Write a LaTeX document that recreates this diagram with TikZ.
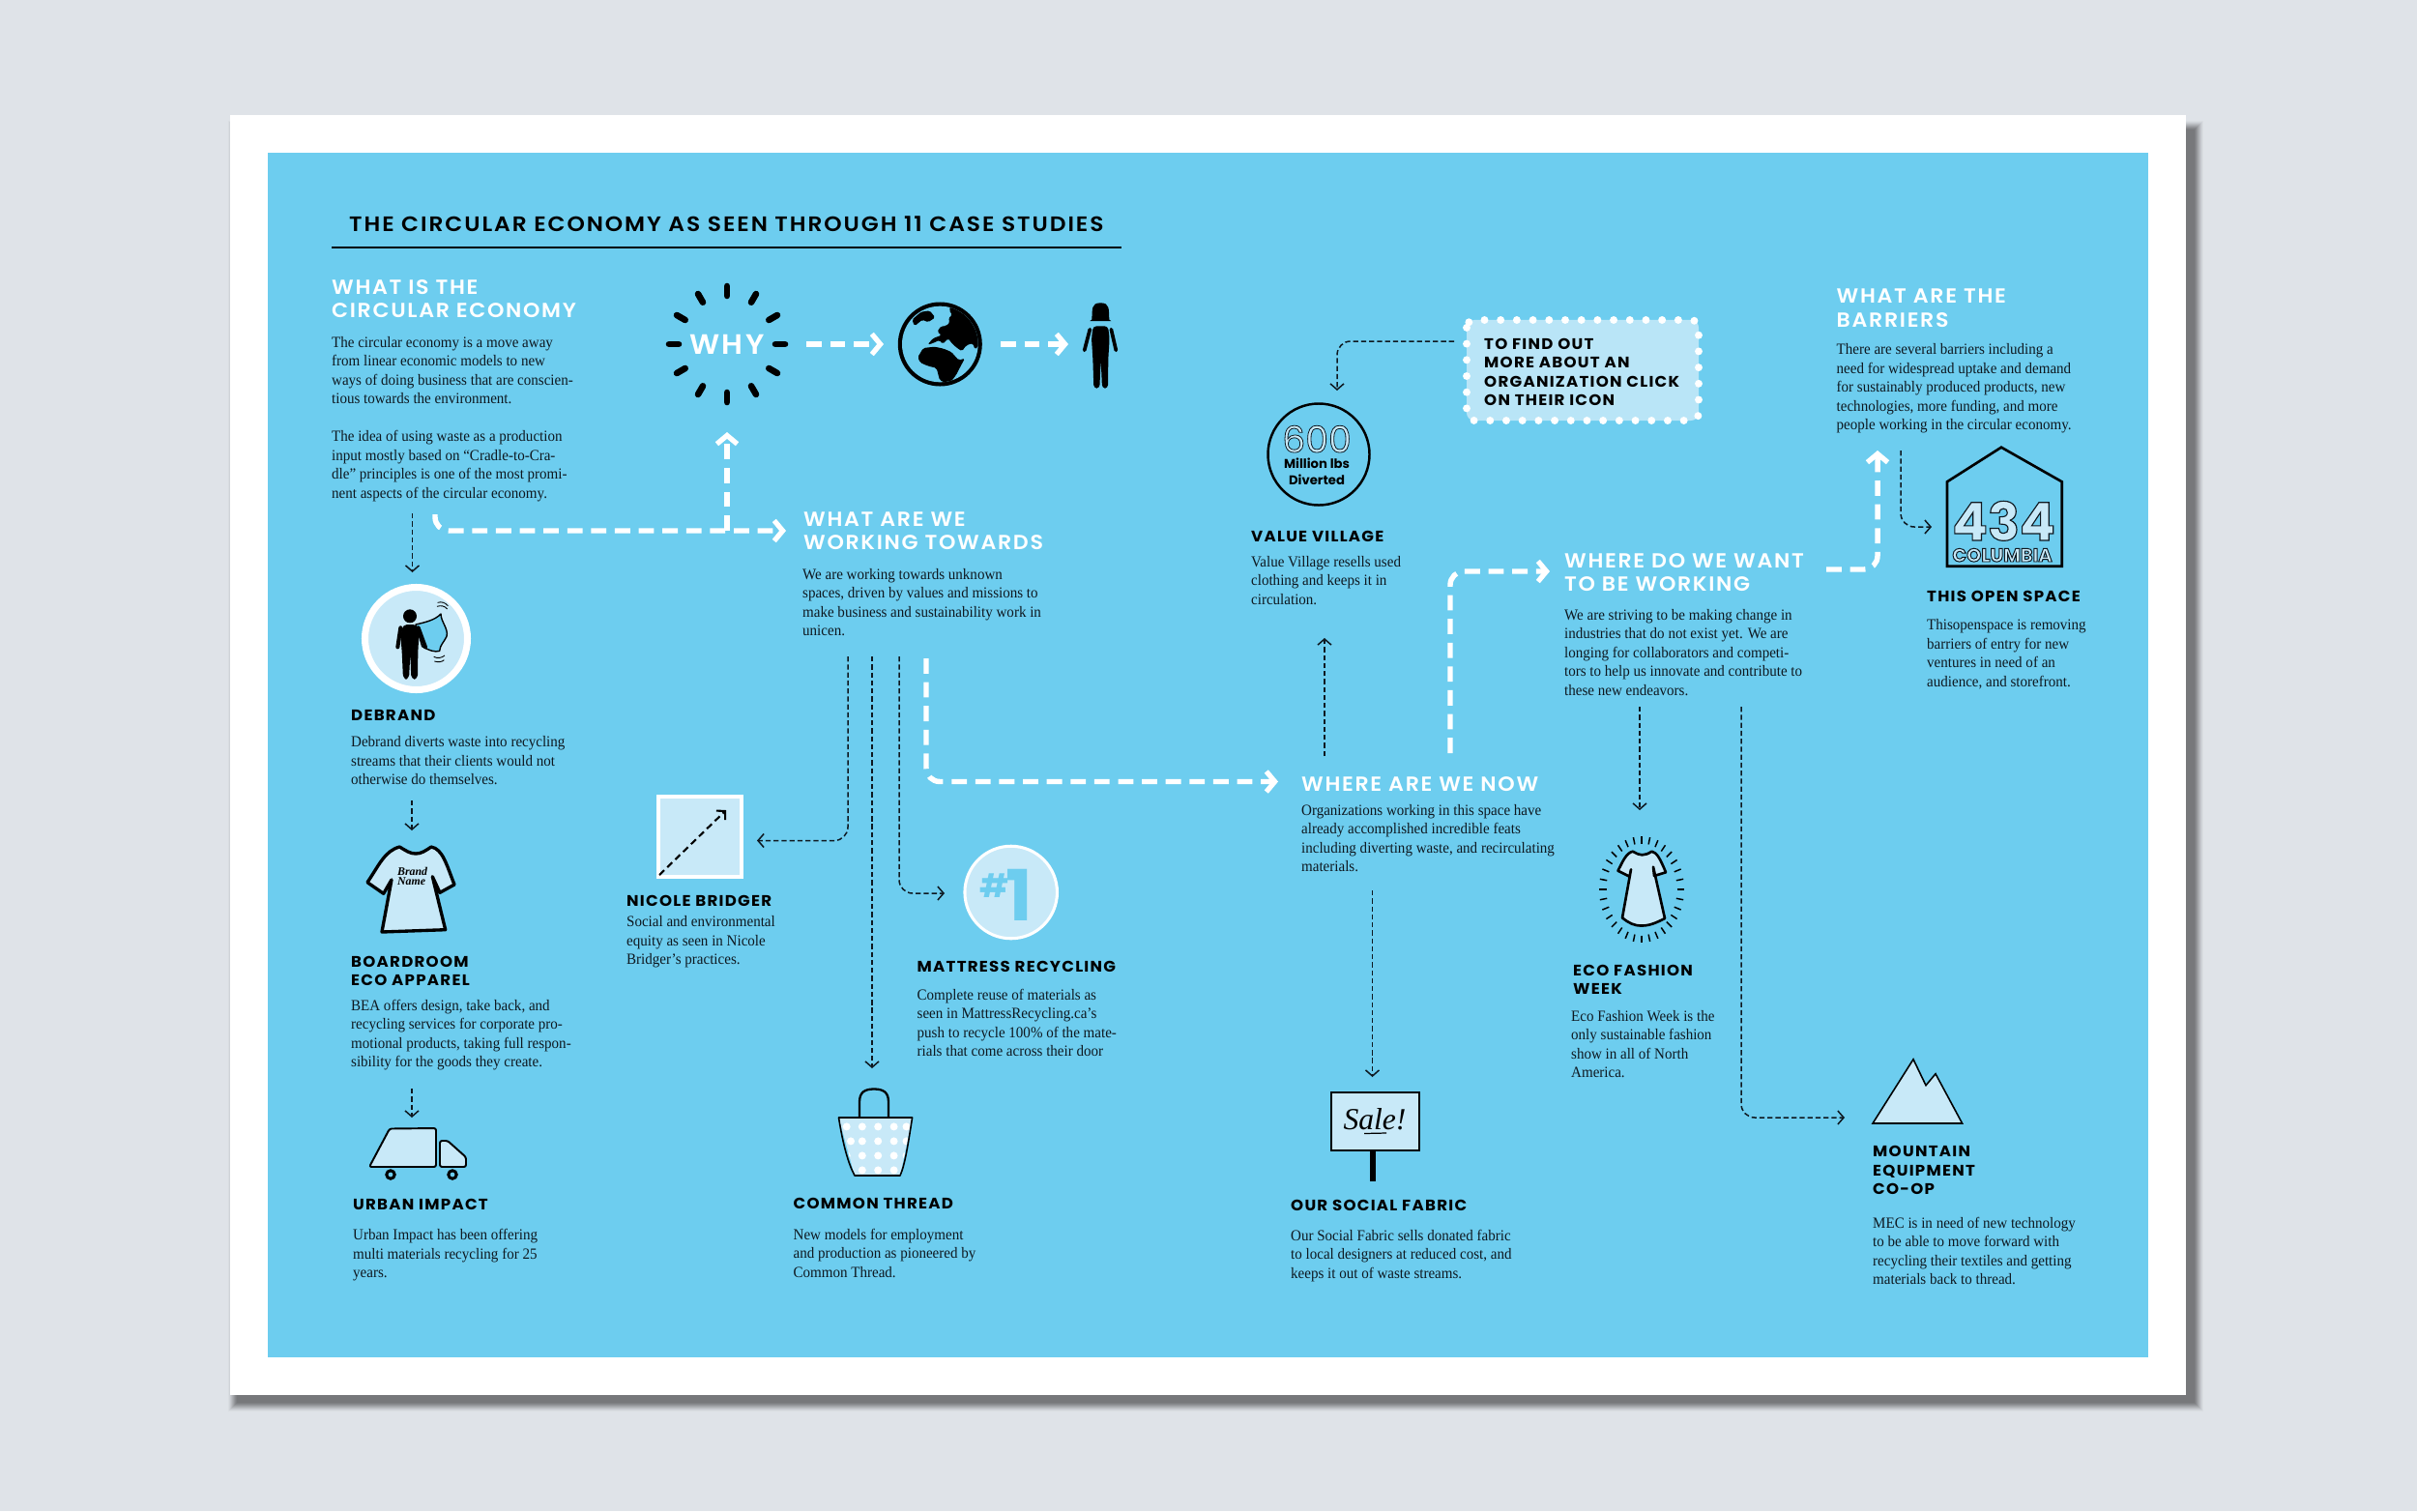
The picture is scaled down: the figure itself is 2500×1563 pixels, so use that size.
\documentclass[tikz,border=0pt]{standalone}
\usepackage{fontspec}
\usetikzlibrary{arrows.meta}
\setmainfont{Liberation Serif}
\newfontfamily\hf{Poppins}[LetterSpace=8,FakeStretch=1.05]
\newfontfamily\hfm{Poppins SemiBold}[LetterSpace=8,FakeStretch=1.05]
\newfontfamily\hft{Poppins SemiBold}[LetterSpace=9,FakeStretch=1.08]
\newfontfamily\hfn{Poppins}
\newfontfamily\bodyf{Liberation Serif}[FakeStretch=0.94]
\definecolor{bgc}{HTML}{DFE3E8}
\definecolor{shc}{HTML}{77787B}
\definecolor{sky}{HTML}{6DCDEF}
\definecolor{pale}{HTML}{C8E9F8}
\definecolor{stick}{HTML}{B9E5F7}
\definecolor{ink}{HTML}{0E1820}
\newcommand{\Outl}[2]{\special{pdf:code 2 Tr #1 w 0.06 0.1 0.13 RG}#2\special{pdf:code 0 Tr 1 w}}
\newcommand{\TL}[1]{\begin{tabular}[t]{@{}l@{}}#1\end{tabular}}
\newcommand{\TC}[1]{\begin{tabular}[t]{@{}c@{}}#1\end{tabular}}
\tikzset{
 bodyt/.style={inner sep=0pt,anchor=base west,text=ink,font=\bodyf\fontsize{18.2pt}{22.2pt}\selectfont},
 headw/.style={inner sep=0pt,anchor=base west,text=white,font=\hfm\fontsize{24pt}{28.4pt}\selectfont},
 headb/.style={inner sep=0pt,anchor=base west,text=black,font=\hf\bfseries\fontsize{18pt}{22.2pt}\selectfont},
 wd/.style={white,line width=6.2pt,dash pattern=on 18pt off 10pt,rounded corners=16pt,-{Straight Barb[length=10pt,width=24pt,line width=6pt]}},
 td/.style={ink,line width=1.7pt,dash pattern=on 6pt off 3.4pt,rounded corners=16pt,-{Straight Barb[length=7pt,width=16pt,line width=1.7pt]}},
 icon/.style={draw=black,fill=pale,line join=round},
}
\begin{document}
\begin{tikzpicture}[x=0.04cm,y=-0.04cm]
\useasboundingbox (0,0) rectangle (2500,1563);
\fill[bgc] (0,0) rectangle (2500,1563);
% shadow
\foreach \k/\p in {9/6,8/14,7/24,6/36,5/48,4/60,3/72,2/84,1/93,0/100}{
  \fill[shc!\p!bgc] ({245-\k},{134-\k}) rectangle ({2270+\k},{1451+\k});
}
\fill[white] (238,119) rectangle (2261,1443);
\fill[sky] (277,158) rectangle (2222,1404);

% title
\node[inner sep=0pt,anchor=base west,text=black,font=\hft\fontsize{24.6pt}{26pt}\selectfont] (title) at (361,239) {THE CIRCULAR ECONOMY AS SEEN THROUGH 11 CASE STUDIES};
\draw[black,line width=2.2pt] (343,256) -- (1160,256);

% What is
\node[headw] (whatis) at (343,304) {\TL{WHAT IS THE\\CIRCULAR ECONOMY}};
\node[bodyt] (whatisb) at (343,359) {\TL{The circular economy is a move away\\from linear economic models to new\\ways of doing business that are conscien-\\tious towards the environment.\\[22.2pt]The idea of using waste as a production\\input mostly based on “Cradle-to-Cra-\\dle” principles is one of the most promi-\\nent aspects of the circular economy.}};

% WHY
\node[inner sep=0pt,text=white,font=\hfm\fontsize{33pt}{33pt}\selectfont] (why) at (752,356) {WHY};
\foreach \a in {0,30,...,330}{
  \draw[black,line width=7.5pt,line cap=round] ({752+50*cos(\a)},{356+50*sin(\a)}) -- ({752+60*cos(\a)},{356+60*sin(\a)});
}
% globe
\node[circle,minimum size=3.48cm,inner sep=0pt,fill=black] (globe) at (972.3,356) {};
\begin{scope}[shift={(910,300)},scale=1/3]
 \fill[sky] (187,168) circle (118);
 \begin{scope}
 \clip (187,168) circle (118);
 \fill[black,rounded corners=2pt] (225,40) -- (215,62) -- (225,78) -- (212,88) -- (218,100) -- (205,112) -- (190,112) -- (178,130) -- (192,140) -- (165,150) -- (148,170) -- (165,165) -- (185,155) -- (195,168) -- (212,150) -- (226,168) -- (240,180) -- (255,190) -- (268,172) -- (288,165) -- (296,185) -- (310,168) -- (320,100) -- (280,30) -- cycle;
 \fill[black,rounded corners=2pt] (118,208) -- (135,180) -- (170,176) -- (198,182) -- (222,192) -- (245,218) -- (264,212) -- (250,238) -- (236,265) -- (215,292) -- (186,280) -- (176,242) -- (150,236) -- (125,225) -- cycle;
 \fill[black,rounded corners=2pt] (100,92) -- (128,68) -- (155,64) -- (172,85) -- (150,100) -- (132,92) -- (108,112) -- cycle;
 \end{scope}
\end{scope}
% woman
\begin{scope}[shift={(910,300)},scale=1/3]
 \fill[black] (658,92) .. controls (660,60) and (655,40) .. (685,40) .. controls (715,40) and (710,60) .. (712,92) -- (718,96) -- (652,96) -- cycle;
 \fill[black,rounded corners=4pt] (662,112) -- (708,112) -- (713,150) -- (709,212) -- (708,305) -- (690,305) -- (686,216) -- (682,305) -- (664,305) -- (661,212) -- (657,150) -- cycle;
 \draw[black,line width=4.2pt,line cap=round] (652,122) -- (635,187);
 \draw[black,line width=4.2pt,line cap=round] (718,122) -- (733,187);
\end{scope}
\coordinate (womanw) at (1105,356);
\coordinate (globew) at (914,356);
\coordinate (whye) at (834,356);
\coordinate (globee) at (1035,356);
\draw[wd] (whye) -- (globew);
\draw[wd] (globee) -- (womanw);

% white connector 1
\coordinate (a1) at (450,532);
\coordinate (a3) at (813,549);
\coordinate (a4) at (752,549);
\coordinate (a5) at (752,447);
\draw[wd] (a1) |- (a3);
\draw[wd] (a4) -- (a5);
\coordinate (t1a) at (426.5,531);
\coordinate (t1b) at (426.5,592);
\draw[td] (t1a) -- (t1b);

% What are we
\node[headw] (working) at (831,544) {\TL{WHAT ARE WE\\WORKING TOWARDS}};
\node[bodyt] (workingb) at (830,599) {\TL{We are working towards unknown\\spaces, driven by values and missions to\\make business and sustainability work in\\unicen.}};

% Debrand
\node[circle,minimum size=4.24cm,inner sep=0pt,fill=pale,draw=white,line width=8pt] (debrandicon) at (430.5,660.5) {};
\begin{scope}[shift={(370,590)},scale=1/3]
 \fill[black] (162,142) circle (21);
 \draw[black,fill=sky,line width=1.6pt,line join=round] (180,168) .. controls (205,162) and (240,155) .. (258,135) .. controls (258,160) and (282,180) .. (276,205) .. controls (268,222) and (255,232) .. (254,250) .. controls (240,255) and (220,248) .. (200,236) -- cycle;
 \fill[black,rounded corners=5pt] (140,168) -- (185,168) -- (190,205) -- (187,250) -- (186,338) -- (166,338) -- (163,258) -- (159,338) -- (141,338) -- (137,250) -- (133,205) -- cycle;
 \draw[black,line width=4.6pt,line cap=round] (133,178) -- (124,238);
 \draw[black,line width=4.6pt,line cap=round] (188,178) -- (210,238);
 \draw[black,line width=1pt] (248,100) .. controls (260,96) and (272,100) .. (280,110);
 \draw[black,line width=1pt] (246,112) .. controls (258,108) and (270,110) .. (278,120);
 \draw[black,line width=1pt] (236,268) .. controls (248,274) and (260,272) .. (270,264);
 \draw[black,line width=1pt] (238,282) .. controls (250,286) and (262,284) .. (268,278);
\end{scope}
\node[headb] (debrand) at (363,745) {DEBRAND};
\node[bodyt] (debrandb) at (363,772.5) {\TL{Debrand diverts waste into recycling\\streams that their clients would not\\otherwise do themselves.}};
\coordinate (t2a) at (426,828);
\coordinate (t2b) at (426,859);
\draw[td] (t2a) -- (t2b);

% T-shirt
\draw[icon,line width=3.8pt] (413.3,876) .. controls (420,880) and (424,883) .. (430,883) .. controls (436,883) and (440,880) .. (446,876) .. controls (458,878) and (462,895) .. (470,915) -- (455,923.3) -- (447.3,906.7) -- (460.7,961.7) -- (395,964) -- (405,910) -- (396.7,924.3) -- (380,912.7) .. controls (392,895) and (398,880) .. (413.3,876) -- cycle;
\node[inner sep=0pt,anchor=base west,font=\itshape\bfseries\fontsize{13.5pt}{11.5pt}\selectfont,text=black] (brandname) at (411,905) {\TL{Brand\\Name}};
\node[headb] (boardroom) at (363,1000) {\TL{BOARDROOM\\ECO APPAREL}};
\node[bodyt] (boardroomb) at (363,1045) {\TL{BEA offers design, take back, and\\recycling services for corporate pro-\\motional products, taking full respon-\\sibility for the goods they create.}};
\coordinate (t3a) at (426,1126);
\coordinate (t3b) at (426,1156);
\draw[td] (t3a) -- (t3b);

% Truck
\draw[icon,line width=2.2pt,rounded corners=2.5pt] (382,1207) -- (403,1167.5) -- (451,1167) -- (451,1207) -- cycle;
\draw[icon,line width=2.2pt,rounded corners=2.5pt] (455,1180) -- (463,1180) -- (482,1197) -- (482,1207) -- (455,1207) -- cycle;
\draw[black,line width=3.4pt] (404,1215) circle (4.2);
\draw[black,line width=3.4pt] (468,1215) circle (4.2);
\node[headb] (urban) at (365,1251) {URBAN IMPACT};
\node[bodyt] (urbanb) at (365,1282.5) {\TL{Urban Impact has been offering\\multi materials recycling for 25\\years.}};

% Nicole
\draw[fill=pale,draw=white,line width=5pt] (681,824) rectangle (767,907);
\coordinate (n1) at (682,905);
\coordinate (n2) at (751,838);
\draw[black,line width=2.4pt,dash pattern=on 8pt off 5pt,-{Straight Barb[length=7pt,width=15pt,line width=2.4pt]}] (n1) -- (n2);
\node[headb] (nicole) at (648,937) {NICOLE BRIDGER};
\node[bodyt] (nicoleb) at (648,958.5) {\TL{Social and environmental\\equity as seen in Nicole\\Bridger’s practices.}};
\coordinate (t4a) at (877,679);
\coordinate (t4b) at (783,869.5);
\draw[td] (t4a) |- (t4b);
\coordinate (t5a) at (902,679);
\coordinate (t5b) at (902,1105);
\draw[td] (t5a) -- (t5b);
\coordinate (t6a) at (930,679);
\coordinate (t6b) at (977,924);
\draw[td] (t6a) |- (t6b);
\coordinate (w2a) at (958,681);
\coordinate (w2b) at (1322,808.5);
\draw[wd] (w2a) |- (w2b);

% Mattress
\node[circle,minimum size=3.82cm,inner sep=0pt,fill=pale,draw=white,line width=3.5pt] (mattressicon) at (1045.7,923) {};
\node[inner sep=0pt,anchor=base west,text=sky,font=\hfn\bfseries\fontsize{83pt}{83pt}\selectfont] (one) at (1013,952) {\raisebox{27pt}{\fontsize{38pt}{38pt}\selectfont\#}\kern-3pt 1};
\node[headb] (mattress) at (948.5,1005) {MATTRESS RECYCLING};
\node[bodyt] (mattressb) at (948.5,1034) {\TL{Complete reuse of materials as\\seen in MattressRecycling.ca’s\\push to recycle 100\% of the mate-\\rials that come across their door}};

% Bag
\draw[black,line width=2.6pt] (889,1156) -- (889,1140) .. controls (889,1130) and (894,1126.5) .. (904,1126.5) .. controls (914,1126.5) and (919,1130) .. (919,1140) -- (919,1156);
\fill[pale] (867.5,1156) -- (943.6,1156) -- (931,1216) -- (884,1216) -- cycle;
\begin{scope}
 \clip (867.5,1156) -- (943.6,1156) -- (931,1216) -- (884,1216) -- cycle;
 \foreach \yy/\xa in {1165.4/875.7,1180.4/880,1195.4/875.7,1210.4/875.7}{
   \foreach \xx in {\xa,891.8,908.2,924.6,937.5}{
     \fill[white] (\xx,\yy) circle (4);
   }
 }
\end{scope}
\draw[black,line width=1.8pt,line join=round] (867.5,1156) -- (943.6,1156) .. controls (939,1185) and (936,1205) .. (931,1216) -- (884,1216) .. controls (878,1205) and (872,1185) .. cycle;
\node[headb] (common) at (820.5,1250) {COMMON THREAD};
\node[bodyt] (commonb) at (820.5,1282) {\TL{New models for employment\\and production as pioneered by\\Common Thread.}};

% Value village
\node[circle,minimum size=4.2cm,inner sep=0pt,draw=black,line width=2.8pt] (vvicon) at (1364,470) {};
\node[inner sep=0pt,anchor=base,font=\hfn\bfseries\fontsize{15pt}{19.5pt}\selectfont,text=black] (million) at (1362,468) {\TC{{\mdseries\fontsize{43pt}{43pt}\selectfont\textcolor{pale}{\Outl{0.9}{600}}}\\[-1.3pt]Million lbs\\Diverted}};
\node[headb] (vv) at (1294,560) {VALUE VILLAGE};
\node[bodyt] (vvb) at (1294,586) {\TL{Value Village resells used\\clothing and keeps it in\\circulation.}};
\coordinate (t7a) at (1504,353);
\coordinate (t7b) at (1383,404);
\draw[td] (t7a) -| (t7b);
\coordinate (t8a) at (1370,782);
\coordinate (t8b) at (1370,660);
\draw[td] (t8a) -- (t8b);

% Sticker
\node[rectangle,rounded corners=9pt,minimum width=9.6cm,minimum height=4.16cm,inner sep=0pt,fill=stick] (sticker) at (1637,383) {};
\draw[white,line width=9pt,line cap=round,dash pattern=on 0pt off 19pt,rounded corners=9pt] (1517,331) rectangle (1757,435);
\node[headb] (stickert) at (1535,361) {\TL{TO FIND OUT\\MORE ABOUT AN\\ORGANIZATION CLICK\\ON THEIR ICON}};

% Barriers
\node[headw] (barriers) at (1899.5,313.5) {\TL{WHAT ARE THE\\BARRIERS}};
\node[bodyt] (barriersb) at (1899.5,366.5) {\TL{There are several barriers including a\\need for widespread uptake and demand\\for sustainably produced products, new\\technologies, more funding, and more\\people working in the circular economy.}};
\coordinate (w3a) at (1889,589);
\coordinate (w3b) at (1942,466);
\draw[wd] (w3a) -| (w3b);
\coordinate (t9a) at (1966,466);
\coordinate (t9b) at (1998,545);
\draw[td] (t9a) |- (t9b);

% House
\draw[black,line width=3pt,line join=miter] (2070,462.7) -- (2132.7,498.3) -- (2132.7,585.7) -- (2014,585.7) -- (2014,498.3) -- cycle;
\node[inner sep=0pt,anchor=base,font=\hfn\bfseries\fontsize{62pt}{62pt}\selectfont,text=pale] (num) at (2072.5,559) {\Outl{1.3}{434}};
\node[inner sep=0pt,anchor=base,font=\hfn\bfseries\fontsize{22pt}{22pt}\selectfont,text=pale] (columbia) at (2071,581) {\Outl{1.1}{COLUMBIA}};
\node[headb] (open) at (1993,622) {THIS OPEN SPACE};
\node[bodyt] (openb) at (1993,651.5) {\TL{Thisopenspace is removing\\barriers of entry for new\\ventures in need of an\\audience, and storefront.}};

% Where want
\node[headw] (want) at (1618,587) {\TL{WHERE DO WE WANT\\TO BE WORKING}};
\node[bodyt] (wantb) at (1618,641) {\TL{We are striving to be making change in\\industries that do not exist yet. We are\\longing for collaborators and competi-\\tors to help us innovate and contribute to\\these new endeavors.}};
\coordinate (w4a) at (1500,779);
\coordinate (w4b) at (1603,591);
\draw[wd] (w4a) |- (w4b);
\coordinate (t10a) at (1696,731);
\coordinate (t10b) at (1696,838);
\draw[td] (t10a) -- (t10b);
\coordinate (t11a) at (1801,731);
\coordinate (t11b) at (1908,1156);
\draw[td] (t11a) |- (t11b);

% Where now
\node[headw] (now) at (1346,818) {WHERE ARE WE NOW};
\node[bodyt] (nowb) at (1346,843) {\TL{Organizations working in this space have\\already accomplished incredible feats\\including diverting waste, and recirculating\\materials.}};
\coordinate (t12a) at (1419.5,921);
\coordinate (t12b) at (1419.5,1114);
\draw[td] (t12a) -- (t12b);

% Sign
\fill[black] (1417,1190) rectangle (1422.5,1222);
\node[rectangle,minimum width=3.64cm,minimum height=2.4cm,inner sep=0pt,fill=pale,draw=black,line width=3.2pt] (sign) at (1422.5,1160) {};
\node[inner sep=0pt,font=\itshape\fontsize{36pt}{36pt}\selectfont,text=black] (sale) at (1422,1158) {Sale!};
\draw[black,line width=1.4pt] (1411,1172.5) -- (1434,1172);
\node[headb] (fabric) at (1335,1252) {OUR SOCIAL FABRIC};
\node[bodyt] (fabricb) at (1335,1283) {\TL{Our Social Fabric sells donated fabric\\to local designers at reduced cost, and\\keeps it out of waste streams.}};

% Dress
\draw[icon,line width=3pt] (1689,880.7) .. controls (1693,883) and (1695,884.3) .. (1698.5,884.3) .. controls (1702,884.3) and (1705,883) .. (1708.5,880.7) .. controls (1714,882) and (1717,888) .. (1723,902.3) -- (1711,906) -- (1710,896.7) -- (1722,950) .. controls (1712,955) and (1706,957.5) .. (1698,957.5) .. controls (1690,957.5) and (1685,955) .. (1678,949.3) -- (1687,899.3) -- (1685.5,906.7) -- (1673.5,900.7) .. controls (1678,892) and (1682,882) .. (1689,880.7) -- cycle;
\foreach \a in {0,11.25,...,349}{
  \draw[black,line width=1.7pt] ({1698+36.5*cos(\a)},{920+47.5*sin(\a)}) -- ({1698+44*cos(\a)},{920+55*sin(\a)});
}
\node[headb] (eco) at (1627,1009) {\TL{ECO FASHION\\WEEK}};
\node[bodyt] (ecob) at (1625,1056) {\TL{Eco Fashion Week is the\\only sustainable fashion\\show in all of North\\America.}};

% Mountain
\draw[icon,line width=1.8pt,line join=miter] (1937,1162) -- (1979,1095.7) -- (1992,1122.7) -- (2002,1110.7) -- (2029.6,1162) -- cycle;
\node[headb] (mec) at (1937,1196.7) {\TL{MOUNTAIN\\EQUIPMENT\\CO-OP}};
\node[bodyt] (mecb) at (1937,1270) {\TL{MEC is in need of new technology\\to be able to move forward with\\recycling their textiles and getting\\materials back to thread.}};
\end{tikzpicture}
\end{document}
